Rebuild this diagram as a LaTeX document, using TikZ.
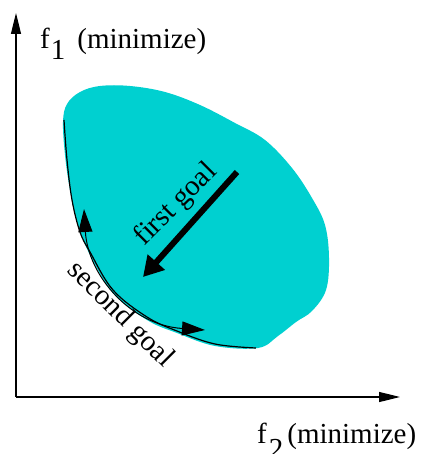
\documentclass[tikz,border=0pt]{standalone}
\usepackage{fontspec}
\setmainfont{Liberation Serif}
\usetikzlibrary{arrows.meta}
\definecolor{regionFill}{RGB}{0,208,208}
\tikzset{
  % axes with narrow filled heads
  axis/.style={-{Triangle[length=21pt,width=10pt]}, line width=1.2pt},
  % label text, set large like the figure
  bigtext/.style={font=\fontsize{29}{33}\selectfont, inner sep=0pt},
  % the thin pareto edge and the goal arrows
  edge/.style={line width=1.2pt},
  goal/.style={{Triangle[length=23pt,width=14pt]}-{Triangle[length=23pt,width=14pt]}, line width=1pt},
  thick goal/.style={-{Triangle[length=20pt,width=22pt]}, line width=6pt},
}

\begin{document}
\begin{tikzpicture}[x=1pt, y=-1pt]
\useasboundingbox (0,0) rectangle (420,454);

% ---------------------------------------------------------------------------
% feasible region
% ---------------------------------------------------------------------------
\fill[regionFill] plot[smooth cycle, tension=0.6] coordinates {
  (63,122) (67,104) (80,92) (100,86) (130,86) (165,92) (200,105)
  (235,123) (265,140) (292,168) (312,198) (325,225) (329,258)
  (326,290) (312,311) (296,322) (278,336) (258,348) (215,346)
  (177,333) (147,320) (113,293) (90,255) (78,225) (70,190) (65,155)};

% lower-left edge of the region
\draw[edge] plot[smooth, tension=0.6] coordinates {
  (64,120) (67,160) (72,200) (80,232) (90,252) (113,290)
  (147,317) (177,331) (215,344) (256,348)};

% ---------------------------------------------------------------------------
% axes
% ---------------------------------------------------------------------------
\coordinate (origin) at (16,397);
\coordinate (f1end) at (16,13);
\coordinate (f2end) at (400,397);
\draw[axis] (origin) -- (f1end);
\draw[axis] (origin) -- (f2end);

\node[bigtext, anchor=base west] (f1label) at (40,49)
  {f\hspace{1pt}\raisebox{-11pt}{1}\hspace{12pt}(minimize)};
\node[bigtext, anchor=base west] (f2label) at (257,443)
  {f\hspace{2pt}\raisebox{-15pt}{2}\hspace{4pt}(minimize)};

% ---------------------------------------------------------------------------
% goals
% ---------------------------------------------------------------------------
\coordinate (firstStart) at (237,172);
\coordinate (firstEnd) at (143,277);
\draw[thick goal] (firstStart) -- (firstEnd);
\node[bigtext, rotate=45] (firstText) at (176,205) {first goal};

\coordinate (secondUp) at (84,209);
\coordinate (secondRight) at (205,330);
\draw[goal] (secondUp) .. controls (88,275) and (130,325) .. (secondRight);
\node[bigtext, rotate=-45] (secondText) at (120,315) {second goal};

\end{tikzpicture}
\end{document}
